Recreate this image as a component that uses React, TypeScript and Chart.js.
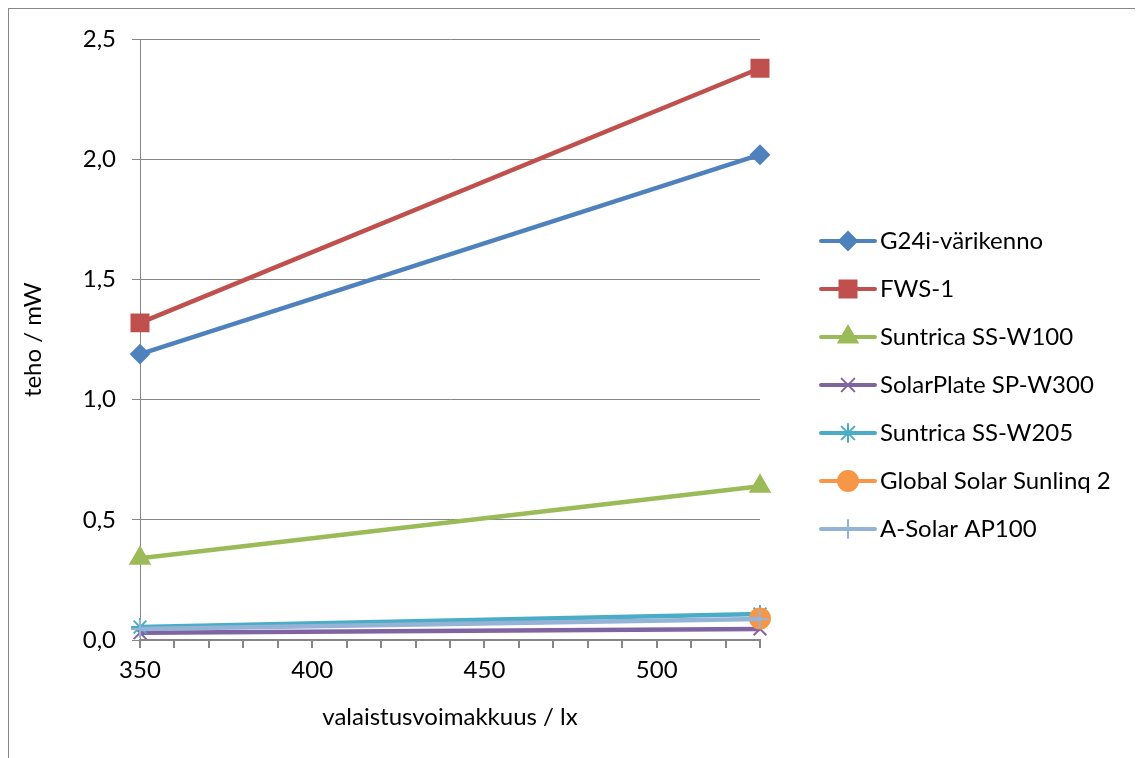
import React, { useEffect, useRef } from "react";
import { Chart, registerables } from "chart.js";
import { drawPoint } from "chart.js/helpers";

Chart.register(...registerables);

const xValues = [350, 530];
const seriesNames = [
  "G24i-värikenno",
  "FWS-1",
  "Suntrica SS-W100",
  "SolarPlate SP-W300",
  "Suntrica SS-W205",
  "Global Solar Sunlinq 2",
  "A-Solar AP100",
];
const g24i = [1.19, 2.02];
const fws1 = [1.32, 2.38];
const ssw100 = [0.34, 0.64];
const spw300 = [0.03, 0.046];
const ssw205 = [0.054, 0.108];
const sunlinq = [null, 0.09];
const ap100 = [0.046, 0.087];
const seriesValues = [g24i, fws1, ssw100, spw300, ssw205, sunlinq, ap100];
const colors = ["#4F81BD", "#C0504D", "#9BBB59", "#8064A2", "#4BACC6", "#F79646", "#95B3D7"];
const styles = ["rectRot", "rect", "triangle", "crossRot", "star", "circle", "cross"];
const radii = [9, 12, 11, 9, 9, 10, 9];
const yTicks = [0, 0.5, 1, 1.5, 2, 2.5];

const FONT = "Lato, 'Open Sans', sans-serif";
const FS = 24;

const legendPlugin = {
  id: "customLegend",
  afterDraw(chart: any) {
    const ctx = chart.ctx;
    ctx.save();
    chart.data.datasets.forEach((ds: any, i: number) => {
      const y = 232 + 48 * i;
      ctx.strokeStyle = ds.borderColor;
      ctx.lineWidth = 4;
      ctx.lineCap = "round";
      ctx.beginPath();
      ctx.moveTo(812, y);
      ctx.lineTo(866, y);
      ctx.stroke();
      ctx.fillStyle = ds.pointBackgroundColor;
      ctx.strokeStyle = ds.pointBorderColor;
      ctx.lineWidth = ds.pointBorderWidth;
      drawPoint(ctx, { pointStyle: ds.pointStyle, rotation: 0, radius: ds.pointRadius, borderWidth: ds.pointBorderWidth }, 839, y);
      ctx.fillStyle = "#000";
      ctx.font = `${FS}px ${FONT}`;
      ctx.textBaseline = "middle";
      ctx.textAlign = "left";
      ctx.fillText(ds.label, 871, y);
    });
    ctx.restore();
  },
};

export default function App() {
  const ref = useRef<HTMLCanvasElement>(null);
  useEffect(() => {
    if (!ref.current) return;
    const datasets = seriesNames.map((name, i) => ({
      label: name,
      data: xValues.map((x, j) => ({ x, y: seriesValues[i][j] })),
      borderColor: colors[i],
      backgroundColor: colors[i],
      borderWidth: 4.5,
      pointStyle: styles[i],
      pointRadius: radii[i],
      pointBackgroundColor: colors[i],
      pointBorderColor: colors[i],
      pointBorderWidth: 2,
      order: -i,
      tension: 0,
      clip: false,
    }));
    const chart = new Chart(ref.current, {
      type: "line",
      data: { datasets },
      plugins: [legendPlugin],
      options: {
        responsive: false,
        animation: false,
        layout: { padding: { top: 25, right: 381, left: 0, bottom: 19 } },
        plugins: { legend: { display: false }, tooltip: { enabled: false } },
        scales: {
          x: {
            type: "linear",
            min: 350,
            max: 530,
            afterFit: (s: any) => { s.height = 110; },
            ticks: {
              stepSize: 10,
              autoSkip: false,
              maxRotation: 0,
              padding: 8,
              color: "#000",
              font: { family: FONT, size: FS },
              callback: (v: any) => (Number(v) % 50 === 0 ? String(v) : ""),
            },
            grid: { drawOnChartArea: false, drawTicks: true, tickLength: 8, color: "#868686", lineWidth: 2 },
            border: { color: "#868686", width: 2 },
            title: {
              display: true,
              text: "valaistusvoimakkuus / lx",
              color: "#000",
              font: { family: FONT, size: FS },
              padding: { top: 0, bottom: 18 },
            },
          },
          y: {
            min: 0,
            max: 2.5,
            afterFit: (s: any) => { s.width = 131; },
            afterBuildTicks: (s: any) => { s.ticks = yTicks.map((v) => ({ value: v })); },
            ticks: {
              padding: 16,
              color: "#000",
              font: { family: FONT, size: FS },
              callback: (v: any) => Number(v).toFixed(1).replace(".", ","),
            },
            grid: { color: "#868686", lineWidth: 1, tickLength: 8 },
            border: { color: "#868686", width: 1 },
            title: {
              display: true,
              text: "teho / mW",
              color: "#000",
              font: { family: FONT, size: FS },
              padding: { top: 10, bottom: 0 },
            },
          },
        },
      },
    });
    return () => chart.destroy();
  }, []);
  return (
    <div style={{ border: "1px solid #888", width: 1132, height: 760, boxSizing: "content-box" }}>
      <canvas ref={ref} width={1132} height={760} style={{ display: "block" }} />
    </div>
  );
}
